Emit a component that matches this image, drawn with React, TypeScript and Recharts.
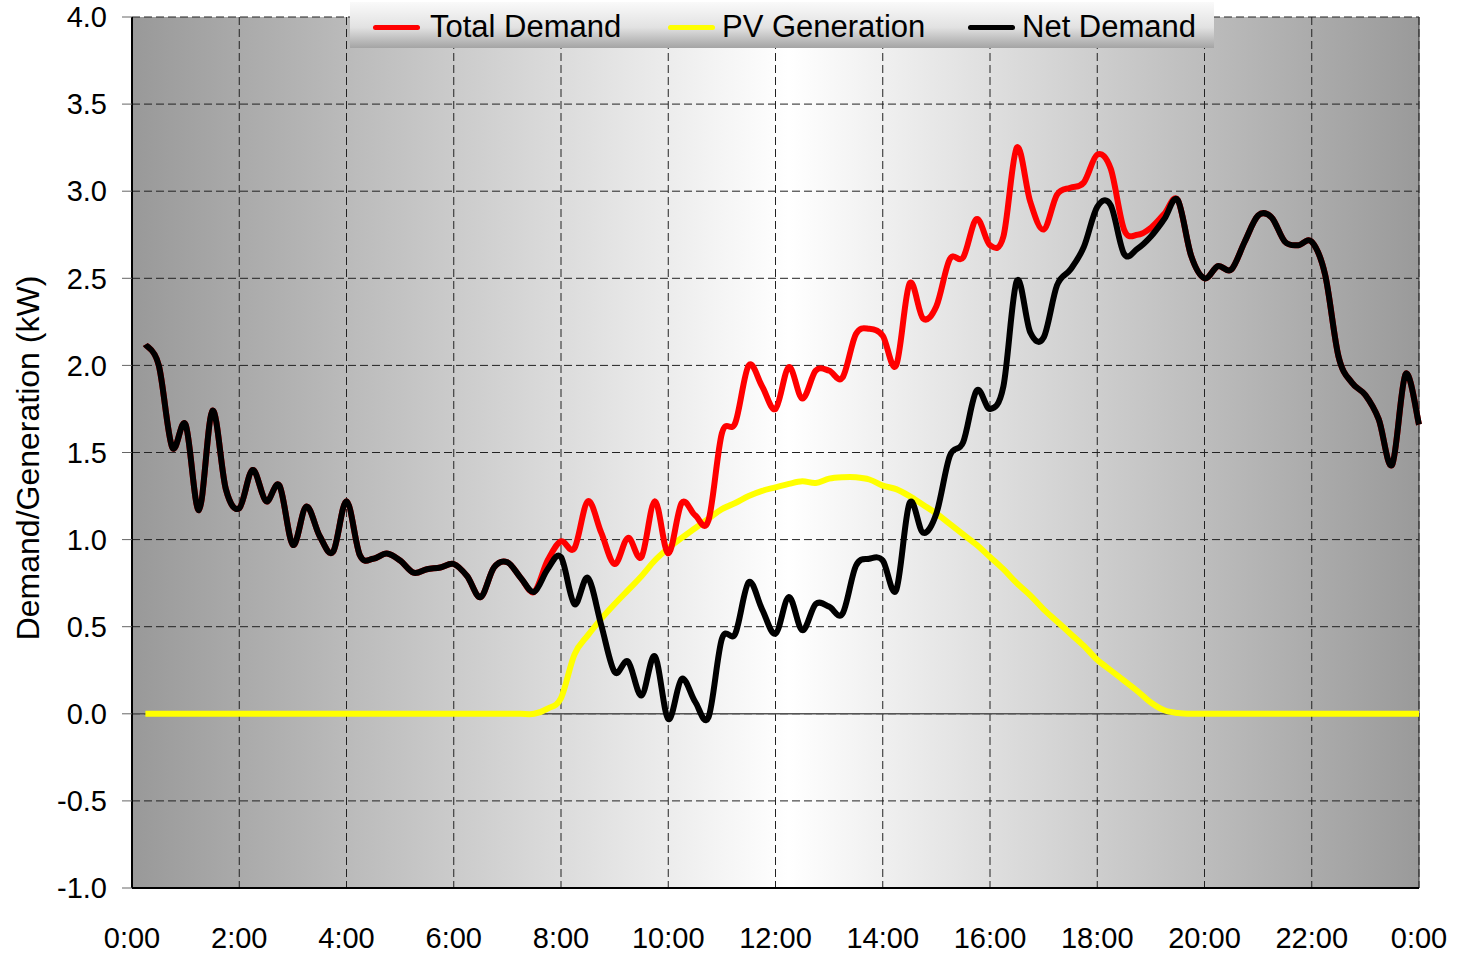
import React from 'react';
import { LineChart, Line, XAxis, YAxis, CartesianGrid, ReferenceLine } from 'recharts';

// 15-minute readings, 0:15 .. 24:00
const timeLabels = [
  '0:15', '0:30', '0:45', '1:00', '1:15', '1:30', '1:45', '2:00',
  '2:15', '2:30', '2:45', '3:00', '3:15', '3:30', '3:45', '4:00',
  '4:15', '4:30', '4:45', '5:00', '5:15', '5:30', '5:45', '6:00',
  '6:15', '6:30', '6:45', '7:00', '7:15', '7:30', '7:45', '8:00',
  '8:15', '8:30', '8:45', '9:00', '9:15', '9:30', '9:45', '10:00',
  '10:15', '10:30', '10:45', '11:00', '11:15', '11:30', '11:45', '12:00',
  '12:15', '12:30', '12:45', '13:00', '13:15', '13:30', '13:45', '14:00',
  '14:15', '14:30', '14:45', '15:00', '15:15', '15:30', '15:45', '16:00',
  '16:15', '16:30', '16:45', '17:00', '17:15', '17:30', '17:45', '18:00',
  '18:15', '18:30', '18:45', '19:00', '19:15', '19:30', '19:45', '20:00',
  '20:15', '20:30', '20:45', '21:00', '21:15', '21:30', '21:45', '22:00',
  '22:15', '22:30', '22:45', '23:00', '23:15', '23:30', '23:45', '24:00',
];

const totalDemand = [
  2.12, 2.00, 1.53, 1.66, 1.17, 1.74, 1.29, 1.18,
  1.40, 1.22, 1.31, 0.97, 1.19, 1.02, 0.93, 1.22,
  0.91, 0.89, 0.92, 0.88, 0.81, 0.83, 0.84, 0.86,
  0.79, 0.67, 0.84, 0.87, 0.78, 0.70, 0.88, 0.99,
  0.95, 1.22, 1.04, 0.86, 1.01, 0.90, 1.22, 0.92,
  1.21, 1.14, 1.11, 1.61, 1.67, 2.00, 1.88, 1.75,
  1.99, 1.81, 1.97, 1.97, 1.93, 2.18, 2.21, 2.17,
  2.00, 2.47, 2.27, 2.34, 2.61, 2.62, 2.84, 2.69,
  2.74, 3.25, 2.94, 2.78, 2.98, 3.02, 3.05, 3.21,
  3.13, 2.78, 2.75, 2.79, 2.87, 2.95, 2.63, 2.50,
  2.57, 2.55, 2.71, 2.86, 2.85, 2.71, 2.69, 2.71,
  2.52, 2.05, 1.90, 1.83, 1.69, 1.43, 1.95, 1.66,
];

const pvGeneration = [
  0, 0, 0, 0, 0, 0, 0, 0,
  0, 0, 0, 0, 0, 0, 0, 0,
  0, 0, 0, 0, 0, 0, 0, 0,
  0, 0, 0, 0, 0, 0, 0.03, 0.09,
  0.34, 0.45, 0.545, 0.63, 0.71, 0.79, 0.88, 0.95,
  1.01, 1.065, 1.12, 1.175, 1.21, 1.25, 1.28, 1.30,
  1.32, 1.335, 1.325, 1.35, 1.358, 1.358, 1.345, 1.31,
  1.29, 1.25, 1.20, 1.15, 1.09, 1.03, 0.97, 0.90,
  0.83, 0.75, 0.68, 0.60, 0.53, 0.46, 0.39, 0.31,
  0.25, 0.19, 0.13, 0.065, 0.02, 0.005, 0, 0,
  0, 0, 0, 0, 0, 0, 0, 0,
  0, 0, 0, 0, 0, 0, 0, 0,
];

const netDemand = [
  2.12, 2.00, 1.53, 1.66, 1.17, 1.74, 1.29, 1.18,
  1.40, 1.22, 1.31, 0.97, 1.19, 1.02, 0.93, 1.22,
  0.91, 0.89, 0.92, 0.88, 0.81, 0.83, 0.84, 0.86,
  0.79, 0.67, 0.84, 0.87, 0.78, 0.70, 0.83, 0.90,
  0.63, 0.78, 0.51, 0.24, 0.30, 0.105, 0.33, -0.03,
  0.20, 0.07, -0.02, 0.43, 0.46, 0.755, 0.60, 0.46,
  0.67, 0.48, 0.63, 0.615, 0.575, 0.85, 0.89, 0.88,
  0.71, 1.21, 1.04, 1.15, 1.48, 1.56, 1.855, 1.75,
  1.88, 2.485, 2.19, 2.16, 2.46, 2.55, 2.68, 2.91,
  2.92, 2.64, 2.67, 2.74, 2.84, 2.95, 2.63, 2.50,
  2.57, 2.55, 2.71, 2.86, 2.85, 2.71, 2.69, 2.71,
  2.52, 2.05, 1.90, 1.83, 1.69, 1.43, 1.95, 1.66,
];

const xTicks = [0, 2, 4, 6, 8, 10, 12, 14, 16, 18, 20, 22, 24];
const yTicks = [-1, -0.5, 0, 0.5, 1, 1.5, 2, 2.5, 3, 3.5, 4];

const toHours = (label: string) => {
  const [h, m] = label.split(':').map(Number);
  return h + m / 60;
};

const data = timeLabels.map((label, i) => ({
  t: toHours(label),
  total: totalDemand[i],
  pv: pvGeneration[i],
  net: netDemand[i],
}));

// Excel-like smoothed line (catmull-rom bezier through every point)
const excelSmooth: any = (context: any) => {
  let pts: number[][] = [];
  return {
    areaStart() {},
    areaEnd() {},
    lineStart() { pts = []; },
    point(x: number, y: number) { pts.push([+x, +y]); },
    lineEnd() {
      if (!pts.length) return;
      context.moveTo(pts[0][0], pts[0][1]);
      for (let i = 0; i < pts.length - 1; i++) {
        const p0 = pts[i - 1] || pts[i];
        const p1 = pts[i];
        const p2 = pts[i + 1];
        const p3 = pts[i + 2] || p2;
        context.bezierCurveTo(
          p1[0] + (p2[0] - p0[0]) / 6, p1[1] + (p2[1] - p0[1]) / 6,
          p2[0] - (p3[0] - p1[0]) / 6, p2[1] - (p3[1] - p1[1]) / 6,
          p2[0], p2[1],
        );
      }
    },
  };
};

const FONT = '"Liberation Sans", Arial, sans-serif';

const legendItems = [
  { name: 'Total Demand', color: '#ff0000', line: 23, text: 80 },
  { name: 'PV Generation', color: '#ffff00', line: 318, text: 372 },
  { name: 'Net Demand', color: '#000000', line: 618, text: 672 },
];

export default function App() {
  return (
    <div style={{ position: 'absolute', left: 0, top: 0, width: 1460, height: 954, background: '#fff', fontFamily: FONT }}>
      <LineChart width={1460} height={954} data={data} margin={{ top: 17, right: 41, bottom: 0, left: 0 }}>
        <defs>
          <linearGradient id="plotBg" x1="0" y1="0" x2="1" y2="0">
            <stop offset="0%" stopColor="#999999" />
            <stop offset="51%" stopColor="#ffffff" />
            <stop offset="100%" stopColor="#9a9a9a" />
          </linearGradient>
        </defs>
        <CartesianGrid
          fill="url(#plotBg)"
          fillOpacity={1}
          stroke="#222"
          strokeDasharray="8 4"
          horizontalValues={yTicks}
          verticalValues={xTicks}
        />
        <XAxis
          dataKey="t"
          type="number"
          domain={[0, 24]}
          ticks={xTicks}
          interval={0}
          tickFormatter={(h: number) => `${h % 24}:00`}
          height={66}
          axisLine={{ stroke: '#000', strokeWidth: 2 }}
          tickLine={false}
          tickSize={0}
          tickMargin={39}
          tick={{ fill: '#000', fontSize: 29, fontFamily: FONT }}
        />
        <YAxis
          type="number"
          domain={[-1, 4]}
          ticks={yTicks}
          interval={0}
          tickFormatter={(v: number) => v.toFixed(1)}
          width={132}
          axisLine={{ stroke: '#000', strokeWidth: 2 }}
          tickLine={{ stroke: '#666' }}
          tickSize={10}
          tickMargin={15}
          tick={{ fill: '#000', fontSize: 29, fontFamily: FONT }}
        />
        <ReferenceLine y={0} stroke="#555" strokeWidth={1.5} />
        <ReferenceLine x={24} stroke="#333" strokeWidth={1} />
        <Line dataKey="pv" type={excelSmooth} stroke="#ffff00" strokeWidth={6} dot={false} isAnimationActive={false} />
        <Line dataKey="total" type={excelSmooth} stroke="#ff0000" strokeWidth={6} dot={false} isAnimationActive={false} />
        <Line dataKey="net" type={excelSmooth} stroke="#000000" strokeWidth={6} dot={false} isAnimationActive={false} />
      </LineChart>

      <div
        style={{
          position: 'absolute', left: 28, top: 458, transform: 'translate(-50%, -50%) rotate(-90deg)',
          whiteSpace: 'nowrap', fontSize: 32, color: '#000',
        }}
      >
        Demand/Generation  (kW)
      </div>

      <div
        style={{
          position: 'absolute', left: 350, top: 2, width: 864, height: 46,
          background: 'linear-gradient(#fafafa, #e2e2e2 55%, #a4a4a4)',
        }}
      >
        {legendItems.map((it) => (
          <React.Fragment key={it.name}>
            <div style={{ position: 'absolute', left: it.line, top: 23, width: 47, height: 5, borderRadius: 3, background: it.color }} />
            <div style={{ position: 'absolute', left: it.text, top: 8, fontSize: 31, lineHeight: '34px', color: '#000', whiteSpace: 'pre' }}>
              {it.name}
            </div>
          </React.Fragment>
        ))}
      </div>
    </div>
  );
}
